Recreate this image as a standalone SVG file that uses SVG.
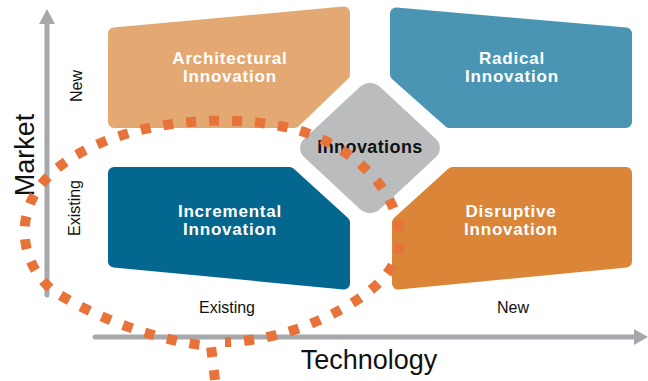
<svg xmlns="http://www.w3.org/2000/svg" width="648" height="381" viewBox="0 0 648 381">
<style>
.card{stroke-width:12;stroke-linejoin:round}
.ct{font-family:"Liberation Sans",Arial,sans-serif;font-weight:bold;font-size:17px;fill:#fff;text-anchor:middle;letter-spacing:0.8px}
.lbl{font-family:"Liberation Sans",Arial,sans-serif;font-size:16px;fill:#111;text-anchor:middle}
.axis{stroke:#A6A8AB;stroke-width:5;stroke-linecap:round;fill:none}
</style>
<rect width="648" height="381" fill="#fff"/>
<g id="axes">
<line class="axis" x1="47" y1="22" x2="47" y2="295"/>
<polygon points="39,24 47,9 55,24" fill="#A6A8AB"/>
<line class="axis" x1="95" y1="337" x2="636" y2="337"/>
<polygon points="634,329 648,337 634,345" fill="#A6A8AB"/>
<text class="lbl" style="font-size:27px" transform="translate(34,155) rotate(-90)">Market</text>
<text class="lbl" transform="translate(82,86) rotate(-90)">New</text>
<text class="lbl" transform="translate(80,208) rotate(-90)">Existing</text>
<text class="lbl" x="227" y="313">Existing</text>
<text class="lbl" x="513" y="313">New</text>
<text class="lbl" style="font-size:27px" x="369" y="369">Technology</text>
</g>
<g id="architectural">
<polygon class="card" fill="#E4A872" stroke="#E4A872" points="114,33.5 344,12.5 344,74.5 294.5,122 114,122"/>
<text class="ct" x="230" y="63.5">Architectural</text>
<text class="ct" x="230" y="82">Innovation</text>
</g>
<g id="radical">
<polygon class="card" fill="#4A95B4" stroke="#4A95B4" points="396,13.5 626,33.5 626,122 449.5,122 396,74.5"/>
<text class="ct" x="512" y="63.5">Radical</text>
<text class="ct" x="512" y="82">Innovation</text>
</g>
<g id="incremental">
<polygon class="card" fill="#04678F" stroke="#04678F" points="114,173 289.5,173 344,222.5 344,283.5 114,261.5"/>
<text class="ct" x="230" y="216.5">Incremental</text>
<text class="ct" x="230" y="235">Innovation</text>
</g>
<g id="disruptive">
<polygon class="card" fill="#DA8537" stroke="#DA8537" points="452.5,173 626,173 626,261.5 398,283.5 398,222.5"/>
<text class="ct" x="511" y="216.5">Disruptive</text>
<text class="ct" x="511" y="235">Innovation</text>
</g>
<g id="innovations">
<rect x="-53.5" y="-53.5" width="107" height="107" rx="14" fill="#BBBCBE" transform="translate(370,148) scale(1,0.93) rotate(45)"/>
<text x="370" y="153" style="font-family:'Liberation Sans',Arial,sans-serif;font-weight:bold;font-size:18px;fill:#111;text-anchor:middle;letter-spacing:0.4px">Innovations</text>
</g>
<g id="connectors">
<path d="M215,380 L211,346 C160,342 95,318 52,290 C20,262 14,215 45,180 C90,130 200,108 290,128 C340,140 395,180 400,235 C402,275 360,305 300,328 C270,338 245,342 225,342" fill="none" stroke="#E8733A" stroke-width="10" stroke-dasharray="10 13"/>
</g>
</svg>
